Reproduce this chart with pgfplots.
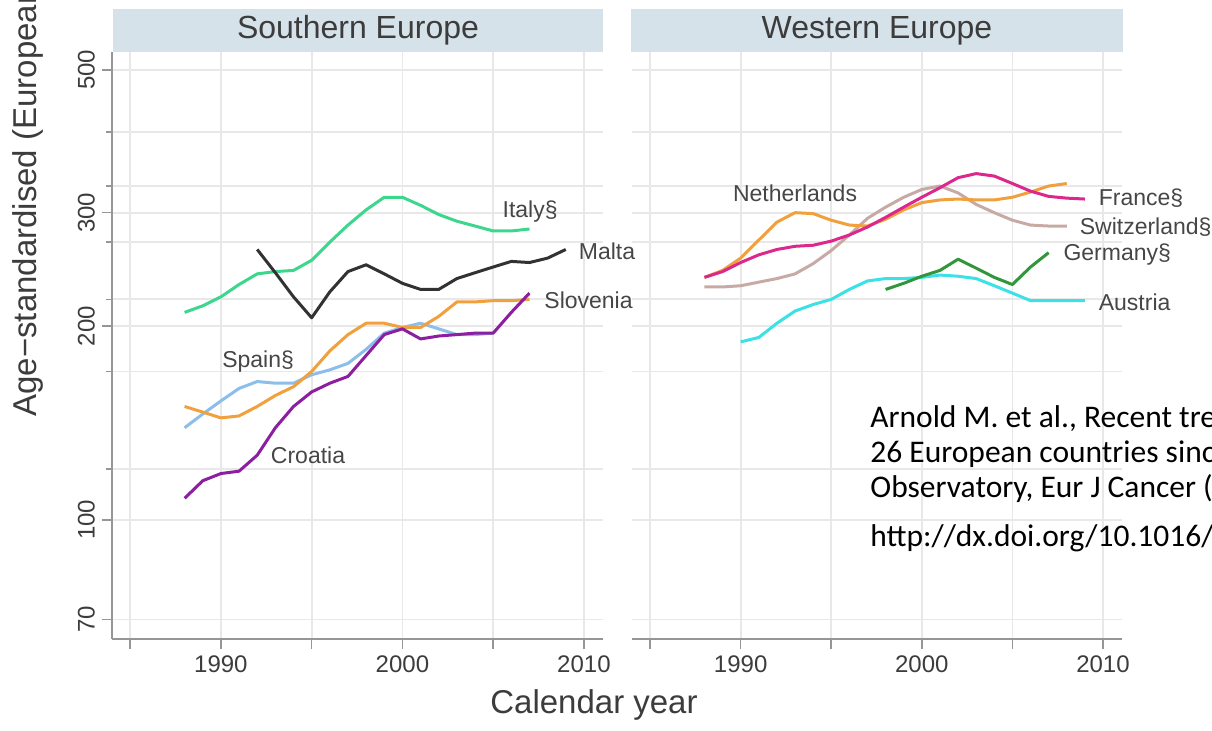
\documentclass[border=0pt]{standalone}
\usepackage{fontspec}
\setmainfont{Liberation Sans}
\newfontfamily\calibri{Carlito}
\usepackage{pgfplots}
\pgfplotsset{compat=1.18}
\definecolor{stripcol}{RGB}{214,226,234}
\definecolor{gridcol}{RGB}{232,232,232}
\definecolor{axcol}{RGB}{150,150,150}
\definecolor{tickcol}{RGB}{60,60,60}
\definecolor{labcol}{RGB}{70,70,70}
\definecolor{italy}{RGB}{60,214,140}
\definecolor{malta}{RGB}{50,50,50}
\definecolor{orangec}{RGB}{240,160,60}
\definecolor{spain}{RGB}{140,190,235}
\definecolor{croatia}{RGB}{140,30,160}
\definecolor{france}{RGB}{220,40,140}
\definecolor{swiss}{RGB}{200,170,165}
\definecolor{germany}{RGB}{50,150,60}
\definecolor{austria}{RGB}{60,225,230}
\pgfplotsset{
  eupanel/.style={
    scale only axis, height=293.5pt,
    xmin=1984, xmax=2011.05, ymin=65.3, ymax=533,
    axis x line*=bottom, axis y line*=left,
    axis line style={draw=axcol, line width=0.8pt, -},
    tick style={draw=axcol, line width=0.8pt},
    tick align=outside, major tick length=5pt, minor tick length=3pt,
    xtick={1985,1990,...,2010}, xticklabels={,1990,,2000,,2010},
    ytick={70,100,200,300,500}, yticklabels={70,100,200,300,500},
    minor ytick={120,170,220,270,330,400},
    grid=both,
    major grid style={draw=gridcol, line width=0.9pt},
    minor grid style={draw=gridcol, line width=0.9pt},
    ticklabel style={font=\fontsize{12}{14}\selectfont, text=tickcol},
    yticklabel style={rotate=90, anchor=south},
    clip=false,
    every axis plot/.append style={line width=1.5pt, line join=round, mark=none},
  },
}
\tikzset{lab/.style={font=\fontsize{11.5}{13}\selectfont, text=labcol, inner sep=0pt}}
\begin{document}
\begin{tikzpicture}
% strips
\fill[stripcol] (56.5pt,339pt) rectangle (301.5pt,360.5pt);
\node[font=\fontsize{16}{19}\selectfont, text=tickcol] at (179pt,349.75pt) {Southern Europe};
\fill[stripcol] (315.5pt,339pt) rectangle (561.5pt,360.5pt);
\node[font=\fontsize{16}{19}\selectfont, text=tickcol] at (438.5pt,349.75pt) {Western Europe};

\begin{semilogyaxis}[eupanel, at={(56pt,45.5pt)}, anchor=south west, width=245.5pt]
\addplot[italy] coordinates {(1988,210) (1989,215) (1990,222) (1991,232) (1992,241) (1993,243) (1994,244) (1995,253) (1996,270) (1997,287) (1998,303) (1999,317) (2000,317) (2001,308) (2002,298) (2003,291) (2004,286) (2005,281) (2006,281) (2007,283)};
\addplot[malta] coordinates {(1992,263) (1993,242) (1994,222) (1995,206) (1996,226) (1997,243) (1998,249) (1999,241) (2000,233) (2001,228) (2002,228) (2003,237) (2004,242) (2005,247) (2006,252) (2007,251) (2008,255) (2009,263)};
\addplot[spain] coordinates {(1988,139) (1989,146) (1990,153) (1991,160) (1992,164) (1993,163) (1994,163) (1995,168) (1996,171) (1997,175) (1998,184) (1999,195) (2000,199) (2001,202) (2002,198) (2003,194) (2004,194) (2005,195)};
\addplot[orangec] coordinates {(1988,150) (1989,147) (1990,144) (1991,145) (1992,150) (1993,156) (1994,161) (1995,170) (1996,183) (1997,194) (1998,202) (1999,202) (2000,199) (2001,199) (2002,207) (2003,218) (2004,218) (2005,219) (2006,219) (2007,220)};
\addplot[croatia] coordinates {(1988,108) (1989,115) (1990,118) (1991,119) (1992,126) (1993,139) (1994,150) (1995,158) (1996,163) (1997,167) (1998,180) (1999,194) (2000,198) (2001,191) (2002,193) (2003,194) (2004,195) (2005,195) (2006,210) (2007,225)};
\node[lab, anchor=west] at (axis cs:2005.5,301) {Italy§};
\node[lab, anchor=west] at (axis cs:2009.7,261) {Malta};
\node[lab, anchor=west] at (axis cs:2007.8,219.6) {Slovenia};
\node[lab] at (axis cs:1992.05,176) {Spain§};
\node[lab] at (axis cs:1994.8,126) {Croatia};
\end{semilogyaxis}

\begin{semilogyaxis}[eupanel, at={(316pt,45.5pt)}, anchor=south west, width=245pt,
  y axis line style={draw=none}, ytick style={draw=none}, yticklabels={}]
\addplot[swiss] coordinates {(1988,230) (1989,230) (1990,231) (1991,234) (1992,237) (1993,241) (1994,250) (1995,262) (1996,277) (1997,294) (1998,306) (1999,317) (2000,326) (2001,330) (2002,322) (2003,309) (2004,300) (2005,292) (2006,287) (2007,286) (2008,286)};
\addplot[orangec] coordinates {(1988,238) (1989,244) (1990,255) (1991,272) (1992,290) (1993,300) (1994,299) (1995,292) (1996,287) (1997,286) (1998,293) (1999,303) (2000,311) (2001,314) (2002,315) (2003,314) (2004,314) (2005,317) (2006,323) (2007,330) (2008,333)};
\addplot[france] coordinates {(1988,238) (1989,243) (1990,251) (1991,258) (1992,263) (1993,266) (1994,267) (1995,271) (1996,277) (1997,285) (1998,295) (1999,306) (2000,317) (2001,328) (2002,340) (2003,345) (2004,342) (2005,333) (2006,324) (2007,318) (2008,316) (2009,315)};
\addplot[austria] coordinates {(1990,189) (1991,192) (1992,202) (1993,211) (1994,216) (1995,220) (1996,228) (1997,235) (1998,237) (1999,237) (2000,238) (2001,240) (2002,239) (2003,237) (2004,231) (2005,225) (2006,219) (2007,219) (2008,219) (2009,219)};
\addplot[germany] coordinates {(1998,228) (1999,233) (2000,239) (2001,244) (2002,254) (2003,246) (2004,238) (2005,232) (2006,247) (2007,260)};
\node[lab] at (axis cs:1993.0,322) {Netherlands};
\node[lab, anchor=west] at (axis cs:2009.75,316) {France§};
\node[lab, anchor=west] at (axis cs:2008.7,285) {Switzerland§};
\node[lab, anchor=west] at (axis cs:2007.8,258) {Germany§};
\node[lab, anchor=west] at (axis cs:2009.75,218) {Austria};
\end{semilogyaxis}

\node[font=\fontsize{16.5}{19}\selectfont, text=tickcol] at (297pt,12.5pt) {Calendar year};
\node[rotate=90, anchor=base west, inner sep=0pt, font=\fontsize{16.5}{19}\selectfont, text=tickcol] at (18pt,156.5pt) {Age−standardised (European population)};

\begin{scope}[every node/.style={anchor=base west, inner sep=0pt, font=\calibri\fontsize{15.75}{18}\selectfont}]
\node at (435pt,151.5pt) {Arnold M. et al., Recent trends in incidence of five common cancers in};
\node at (435pt,134pt) {26 European countries since 1988: Analysis of the European Cancer};
\node at (435pt,116.5pt) {Observatory, Eur J Cancer (2013)};
\node at (435pt,92pt) {http://dx.doi.org/10.1016/j.ejca.2013.09.002};
\end{scope}

\pgfresetboundingbox
\path[use as bounding box] (0,0) rectangle (606pt,365pt);
\end{tikzpicture}
\end{document}
